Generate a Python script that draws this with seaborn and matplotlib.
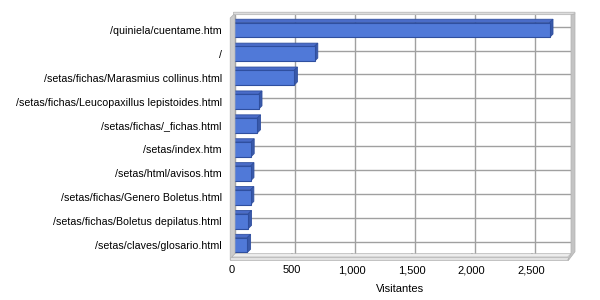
import matplotlib
matplotlib.use("Agg")
import matplotlib.pyplot as plt
from matplotlib.patches import Polygon
from matplotlib.ticker import FuncFormatter
import seaborn as sns
import pandas as pd

# Visitor counts per page
pages = [
    "/quiniela/cuentame.htm",
    "/",
    "/setas/fichas/Marasmius collinus.html",
    "/setas/fichas/Leucopaxillus lepistoides.html",
    "/setas/fichas/_fichas.html",
    "/setas/index.htm",
    "/setas/html/avisos.htm",
    "/setas/fichas/Genero Boletus.html",
    "/setas/fichas/Boletus depilatus.html",
    "/setas/claves/glosario.html",
]
visitantes = [2650, 690, 520, 225, 213, 160, 158, 157, 138, 130]
x_ticks = [0, 500, 1000, 1500, 2000, 2500]
x_max = 2800

df = pd.DataFrame({"pagina": pages, "visitantes": visitantes})

sns.set_theme(style="white")
plt.rcParams["font.family"] = ["Liberation Sans", "DejaVu Sans"]

W, H = 600, 300
fig = plt.figure(figsize=(W / 100, H / 100), dpi=100)
fig.patch.set_facecolor("white")

# pixel geometry of the front plane and the depth offset
left, right, top, bottom = 231.7, 567.7, 18.0, 257.0
depth = 3.3


def fig_rect(l, t, r, b):
    return [l / W, 1 - b / H, (r - l) / W, (b - t) / H]


def px(x, y):
    return (x / W, 1 - y / H)


# back wall with grid
ax_back = fig.add_axes(fig_rect(left + depth, top - depth, right + depth, bottom - depth))
ax_back.set_facecolor("white")
ax_back.set_xlim(0, x_max)
ax_back.set_ylim(len(pages) - 0.5, -0.5)
ax_back.set_xticks(x_ticks)
ax_back.set_yticks(range(len(pages)))
ax_back.tick_params(length=0, labelbottom=False, labelleft=False)
ax_back.grid(True, color="#a0a0a0", linewidth=1.0)
for s in ax_back.spines.values():
    s.set_visible(False)

# walls and floor slabs
grey_edge = "#b0b0b0"
bl, bt, br, bb = left + depth, top - depth, right + depth, bottom - depth
slabs = [
    # left wall
    ([px(left - 1.5, top), px(bl - 1.5, bt), px(bl, bt), px(bl, bb), px(left, bottom + 3), px(left - 1.5, bottom + 3)], "#cccccc"),
    # floor
    ([px(left, bottom), px(bl, bb), px(br, bb), px(right, bottom)], "#eeeeee"),
    ([px(left - 1.5, bottom), px(right, bottom), px(right, bottom + 3), px(left - 1.5, bottom + 3)], "#e2e2e2"),
    # right wall thickness
    ([px(br, bt), px(br + 4, bt - 1), px(br + 4, bb - 2), px(right + 1, bottom + 3), px(right, bottom + 3), px(br, bb)], "#c4c4c4"),
    # top edge
    ([px(bl - 1.5, bt - 2.5), px(br + 4, bt - 2.5), px(br + 4, bt - 1), px(br, bt), px(bl, bt), px(bl - 1.5, bt)], "#dcdcdc"),
]
for pts, col in slabs:
    fig.patches.append(Polygon(pts, closed=True, facecolor=col, edgecolor=grey_edge,
                               linewidth=0.5, transform=fig.transFigure, figure=fig, zorder=1))

# front plane with the bars
ax = fig.add_axes(fig_rect(left, top, right, bottom))
ax.patch.set_alpha(0)
front_col, top_col, side_col, edge_col = "#5079d8", "#4a6cc8", "#3a5aaa", "#2f4f9f"
sns.barplot(data=df, x="visitantes", y="pagina", orient="h", color=front_col,
            saturation=1, width=0.62, edgecolor=edge_col, linewidth=0.8, ax=ax, zorder=3)
ax.set_xlim(0, x_max)
ax.set_ylim(len(pages) - 0.5, -0.5)

dx = depth * x_max / (right - left)
dy = -depth * len(pages) / (bottom - top)
for bar in list(ax.patches):
    x0, y0 = bar.get_x(), bar.get_y()
    x1, y1 = x0 + bar.get_width(), y0 + bar.get_height()
    top_face = [(x0, y0), (x1, y0), (x1 + dx, y0 + dy), (x0 + dx, y0 + dy)]
    side_face = [(x1, y0), (x1, y1), (x1 + dx, y1 + dy), (x1 + dx, y0 + dy)]
    ax.add_patch(Polygon(top_face, closed=True, facecolor=top_col, edgecolor=edge_col,
                         linewidth=0.6, zorder=2.9, clip_on=False))
    ax.add_patch(Polygon(side_face, closed=True, facecolor=side_col, edgecolor=edge_col,
                         linewidth=0.6, zorder=2.9, clip_on=False))

for s in ax.spines.values():
    s.set_visible(False)
ax.set_xticks(x_ticks)
ax.xaxis.set_major_formatter(FuncFormatter(lambda v, p: f"{int(v):,}"))
ax.tick_params(axis="x", length=3, direction="in", color="#a0a0a0", pad=6, labelsize=8,
               labelcolor="black", bottom=True)
ax.tick_params(axis="y", length=0, pad=7, labelsize=7.7, labelcolor="black")
ax.set_ylabel("")
ax.set_xlabel("Visitantes", fontsize=8, color="black", labelpad=6)
ax.grid(False)

fig.savefig("out.png", dpi=100, facecolor="white")
